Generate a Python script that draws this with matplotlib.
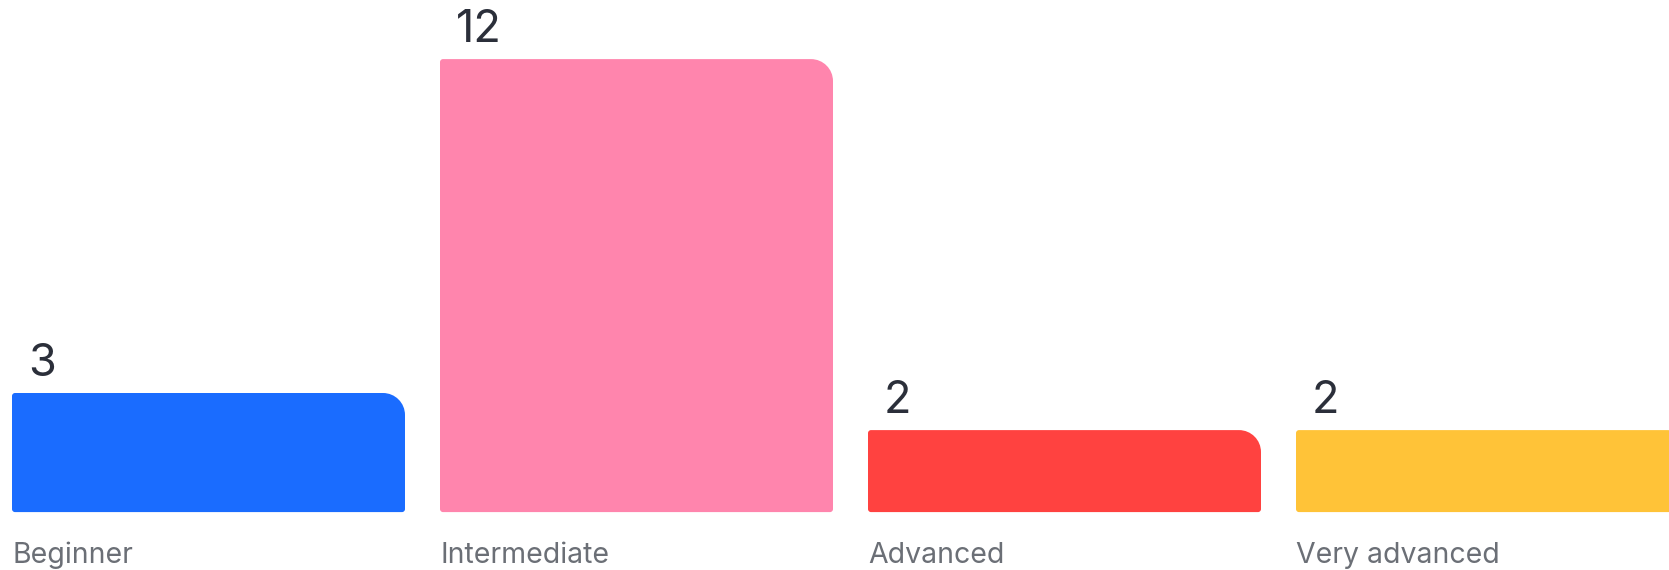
import numpy as np
import matplotlib.pyplot as plt
from matplotlib.path import Path
from matplotlib.patches import PathPatch

# data
niveaux = ["Beginner", "Intermediate", "Advanced", "Very advanced"]
reponses = [3, 12, 2, 2]
couleurs = ["#1a6cff", "#ff85ad", "#ff4240", "#ffc338"]

px_x = 428.0   # pixels per category step
px_y = 37.1    # pixels per unit
base = -0.21   # bars start a bit under zero (minimum bar height)


def coin_arrondi(x0, y0, w, h, rx, ry, sx, sy):
    # rectangle with a big radius on the top-right corner, small ones elsewhere
    k = 0.5523
    verts = [
        (x0 + sx, y0),
        (x0 + w - sx, y0),
        (x0 + w - sx + k * sx, y0), (x0 + w, y0 + sy - k * sy), (x0 + w, y0 + sy),
        (x0 + w, y0 + h - ry),
        (x0 + w, y0 + h - ry + k * ry), (x0 + w - rx + k * rx, y0 + h), (x0 + w - rx, y0 + h),
        (x0 + sx, y0 + h),
        (x0 + sx - k * sx, y0 + h), (x0, y0 + h - sy + k * sy), (x0, y0 + h - sy),
        (x0, y0 + sy),
        (x0, y0 + sy - k * sy), (x0 + sx - k * sx, y0), (x0 + sx, y0),
        (x0 + sx, y0),
    ]
    codes = [Path.MOVETO, Path.LINETO,
             Path.CURVE4, Path.CURVE4, Path.CURVE4,
             Path.LINETO,
             Path.CURVE4, Path.CURVE4, Path.CURVE4,
             Path.LINETO,
             Path.CURVE4, Path.CURVE4, Path.CURVE4,
             Path.LINETO,
             Path.CURVE4, Path.CURVE4, Path.CURVE4,
             Path.CLOSEPOLY]
    return Path(verts, codes)


plt.rcParams['font.family'] = ['Inter', 'DejaVu Sans']

fig = plt.figure(figsize=(16.69, 5.70), dpi=100)
ax = fig.add_axes([0, 0, 1, 1])
ax.set_xlim(-12 / px_x, (1669 - 12) / px_x)
ax.set_ylim(-65.7 / px_y, (570 - 65.7) / px_y)
ax.axis("off")

x = np.arange(len(niveaux))
largeur = 393 / px_x
barres = ax.bar(x, np.array(reponses) - base, width=largeur, bottom=base,
                align="edge", color=couleurs)

for rect, n, nom in zip(barres, reponses, niveaux):
    x0, y0 = rect.get_x(), rect.get_y()
    w, h = rect.get_width(), rect.get_height()
    chemin = coin_arrondi(x0, y0, w, h, 22 / px_x, 22 / px_y, 3 / px_x, 3 / px_y)
    ax.add_patch(PathPatch(chemin, facecolor=rect.get_facecolor(),
                           edgecolor="none", clip_on=True))
    rect.set_visible(False)

    ax.text(x0 + 16 / px_x, n + 17 / px_y, str(n), fontsize=32.5,
            color="#2b2f3a", ha="left", va="baseline")
    ax.text(x0, -65.7 / px_y + 7 / px_y, nom, fontsize=20.5,
            color="#6b6f76", ha="left", va="baseline")

fig.savefig("out.png", dpi=100)
